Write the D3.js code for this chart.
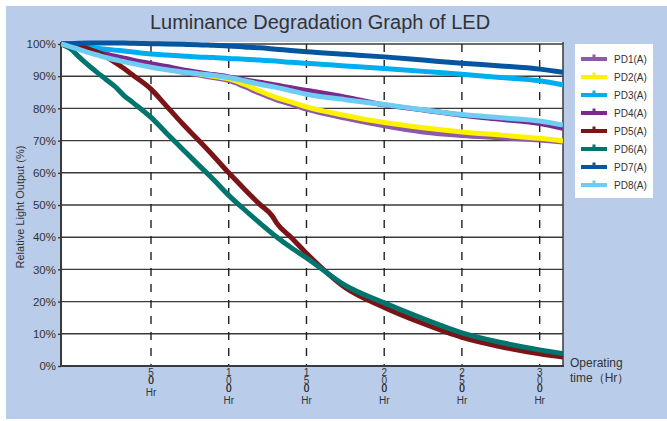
<!DOCTYPE html>
<html>
<head>
<meta charset="utf-8">
<script src="https://cdn.jsdelivr.net/npm/d3@7"></script>
<style>
  html, body { margin: 0; padding: 0; background: #fff; }
  svg { display: block; }
  text { font-family: "Liberation Sans", Arial, sans-serif; fill: #333; }
</style>
</head>
<body>
<svg id="chart" width="667" height="421"></svg>
<script>
// ---------------- data ----------------
const chartTitle = "Luminance Degradation Graph of LED";
const yTitle = "Relative Light Output (%)";
const xTitleLines = ["Operating", "time（Hr）"];
const xTickUnit = "Hr";
const seriesNames = ["PD1(A)", "PD2(A)", "PD3(A)", "PD4(A)", "PD5(A)", "PD6(A)", "PD7(A)", "PD8(A)"];
const seriesColors = ["#8c5aa8", "#fff200", "#00aeef", "#7a2a8c", "#7a1416", "#00756e", "#0456a0", "#6fcdf4"];
const xTickValues = [500, 1000, 1500, 2000, 2500, 3000];
const yTickValues = [0, 10, 20, 30, 40, 50, 60, 70, 80, 90, 100];

const hours = [0, 50, 100, 150, 200, 250, 300, 350, 400, 500, 600, 700, 800, 900, 1000, 1100, 1200, 1300, 1400, 1500, 1750, 2000, 2250, 2500, 2750, 3000, 3150];
const hoursPD5 = [0, 50, 100, 150, 200, 250, 300, 350, 400, 500, 600, 700, 800, 900, 1000, 1100, 1200, 1280, 1310, 1400, 1500, 1750, 2000, 2250, 2500, 2750, 3000, 3150];

const pd1 = [100, 99.3, 98.5, 97.7, 97.0, 96.3, 95.7, 95.1, 94.5, 93.3, 92.3, 91.3, 90.4, 89.6, 88.7, 86.8, 84.7, 82.8, 81.3, 79.8, 77.0, 74.6, 72.7, 71.6, 70.9, 70.2, 69.6];
const pd2 = [100, 99.4, 98.7, 98.0, 97.3, 96.6, 96.0, 95.4, 94.8, 93.6, 92.6, 91.6, 90.8, 90.0, 89.2, 87.5, 85.4, 83.5, 82.0, 80.5, 77.8, 75.6, 74.0, 72.7, 71.7, 70.7, 69.9];
const pd3 = [100, 99.6, 99.3, 99.0, 98.7, 98.4, 98.1, 97.8, 97.5, 96.9, 96.6, 96.3, 96.0, 95.8, 95.5, 95.3, 95.0, 94.7, 94.3, 94.0, 93.2, 92.4, 91.5, 90.6, 89.6, 88.6, 87.3];
const pd4 = [100, 99.5, 99.0, 98.3, 97.5, 96.8, 96.2, 95.6, 95.0, 93.9, 93.0, 92.0, 91.2, 90.5, 89.8, 88.9, 88.1, 87.3, 86.4, 85.6, 83.5, 81.1, 79.5, 77.9, 76.6, 75.3, 73.8];
const pd5 = [100, 100, 99.4, 98.5, 97.4, 96.0, 94.3, 92.4, 90.3, 86.0, 80.7, 75.4, 70.4, 65.3, 60.0, 55.0, 50.2, 46.6, 44.3, 40.0, 35.0, 24.3, 18.2, 13.2, 8.9, 6.0, 3.8, 2.8];
const pd6 = [100, 98.6, 96.0, 93.5, 91.2, 89.0, 86.8, 84.0, 81.8, 77.2, 72.3, 67.5, 62.7, 58.0, 53.0, 48.6, 44.4, 40.4, 36.8, 33.6, 25.0, 19.6, 14.7, 10.3, 7.3, 5.0, 3.8];
const pd7 = [100, 100.1, 100.2, 100.3, 100.3, 100.3, 100.3, 100.3, 100.2, 100.1, 100, 99.9, 99.8, 99.6, 99.4, 99.1, 98.8, 98.4, 98.0, 97.6, 96.8, 96.0, 95.0, 94.0, 93.2, 92.2, 91.2];
const pd8 = [100, 99.2, 98.3, 97.4, 96.6, 95.8, 95.1, 94.5, 93.9, 92.8, 92.0, 91.3, 90.8, 90.3, 89.6, 88.6, 87.5, 86.6, 85.5, 84.4, 82.7, 81.2, 79.6, 78.1, 77.1, 76.1, 74.8];

const seriesValues = [pd1, pd2, pd3, pd4, pd5, pd6, pd7, pd8];
const seriesHours = [hours, hours, hours, hours, hoursPD5, hours, hours, hours];

// ---------------- layout ----------------
const W = 667, H = 421;
const plot = { left: 61, right: 563, top: 44, bottom: 366 };

const svg = d3.select("#chart");

// background panel
svg.append("rect").attr("x", 6).attr("y", 6).attr("width", W - 6).attr("height", 413).attr("fill", "#b9cdea");

// scales (time axis of the original is not uniform before 500 h)
const x = d3.scaleLinear().domain([0, 500, 3150]).range([plot.left, 151, plot.right]);
const y = d3.scaleLinear().domain([0, 100]).range([plot.bottom, plot.top]);

// plot area
svg.append("rect").attr("x", plot.left).attr("y", plot.top - 2)
  .attr("width", plot.right - plot.left).attr("height", plot.bottom - plot.top + 2).attr("fill", "#fff");

// horizontal grid
svg.append("g").selectAll("line").data(yTickValues).join("line")
  .attr("x1", plot.left).attr("x2", plot.right)
  .attr("y1", d => y(d)).attr("y2", d => y(d))
  .attr("stroke", "#3a3a3a").attr("stroke-width", 1.4);

// vertical dashed grid
svg.append("g").selectAll("line").data(xTickValues).join("line")
  .attr("x1", d => x(d)).attr("x2", d => x(d))
  .attr("y1", plot.top).attr("y2", plot.bottom)
  .attr("stroke", "#222").attr("stroke-width", 1.4).attr("stroke-dasharray", "8,8");

// y axis
const yAxis = d3.axisLeft(y).tickValues(yTickValues).tickFormat(d => d + "%").tickSize(3).tickPadding(2);
const yg = svg.append("g").attr("transform", `translate(${plot.left},0)`).call(yAxis);
yg.select(".domain").remove();
yg.selectAll(".tick line").attr("stroke", "#3a3a3a").attr("stroke-width", 1.4);
yg.selectAll(".tick text").attr("font-size", 11.5).attr("fill", "#333")
  .attr("font-family", "Liberation Sans, Arial, sans-serif");

// frame
svg.append("line").attr("x1", plot.left).attr("x2", plot.left).attr("y1", plot.top - 2).attr("y2", plot.bottom)
  .attr("stroke", "#3a3a3a").attr("stroke-width", 2);
svg.append("line").attr("x1", plot.right).attr("x2", plot.right).attr("y1", plot.top - 2).attr("y2", plot.bottom)
  .attr("stroke", "#3a3a3a").attr("stroke-width", 1.5);
svg.append("line").attr("x1", plot.left).attr("x2", plot.right + 1).attr("y1", plot.bottom).attr("y2", plot.bottom)
  .attr("stroke", "#3a3a3a").attr("stroke-width", 2);

// x tick labels: digits stacked vertically (the last two glyphs sit on top of each other, as in the original)
const xl = svg.append("g");
xTickValues.forEach(v => {
  const chars = String(v).split("");
  const cx = x(v);
  const ys = [];
  let cy = 375.8;
  chars.forEach((c, i) => {
    if (i > 0 && i < chars.length - 1) cy += 8;
    ys.push(cy);
  });
  xl.append("text")
    .attr("x", chars.map(() => cx).join(" "))
    .attr("y", ys.join(" "))
    .attr("text-anchor", "middle").attr("font-size", 10).text(String(v));
  xl.append("text").attr("x", cx).attr("y", cy + 12.2)
    .attr("text-anchor", "middle").attr("font-size", 10).text(xTickUnit);
});

// x title
xTitleLines.forEach((l, i) => {
  svg.append("text").attr("x", 570).attr("y", 367 + i * 15).attr("font-size", 12).text(l);
});

// y title
svg.append("text").attr("transform", `translate(24,${plot.top + (plot.bottom - plot.top) / 2 + 2}) rotate(-90)`)
  .attr("text-anchor", "middle").attr("font-size", 11).text(yTitle);

// title
svg.append("text").attr("x", 320).attr("y", 29).attr("text-anchor", "middle")
  .attr("font-size", 20).attr("fill", "#222").text(chartTitle);

// lines
svg.append("clipPath").attr("id", "clipP").append("rect")
  .attr("x", plot.left).attr("y", plot.top - 4).attr("width", plot.right - plot.left).attr("height", plot.bottom - plot.top + 4);
const line = d3.line().x(d => x(d[0])).y(d => y(d[1])).curve(d3.curveMonotoneX);
const lg = svg.append("g").attr("clip-path", "url(#clipP)");
seriesValues.forEach((vals, i) => {
  const pts = vals.map((v, j) => [seriesHours[i][j], v]);
  lg.append("path").datum(pts).attr("d", line)
    .attr("fill", "none").attr("stroke", seriesColors[i]).attr("stroke-width", 5)
    .attr("stroke-linejoin", "round").attr("stroke-linecap", "butt");
});

// legend
const leg = svg.append("g");
leg.append("rect").attr("x", 575).attr("y", 44).attr("width", 78).attr("height", 154).attr("fill", "#fff");
seriesNames.forEach((n, i) => {
  const cy = 59 + i * 18;
  leg.append("rect").attr("x", 581).attr("y", cy - 2).attr("width", 26).attr("height", 4).attr("fill", seriesColors[i]);
  leg.append("rect").attr("x", 592.5).attr("y", cy - 4.5).attr("width", 3).attr("height", 3).attr("fill", seriesColors[i]);
  leg.append("text").attr("x", 614).attr("y", cy + 3.6).attr("font-size", 10).text(n);
});
</script>
</body>
</html>
